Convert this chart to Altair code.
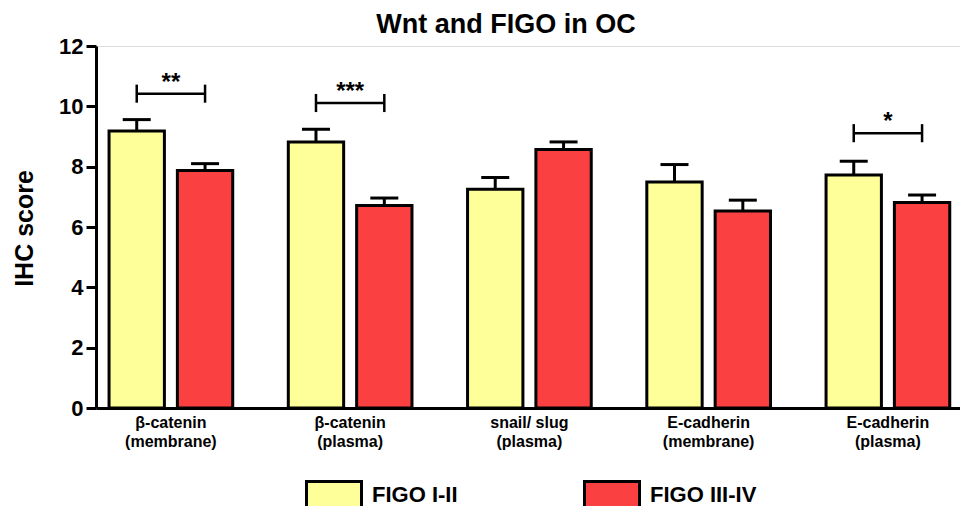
import altair as alt
import pandas as pd

categories = ["β-catenin\n(membrane)", "β-catenin\n(plasma)", "snail/ slug\n(plasma)",
              "E-cadherin\n(membrane)", "E-cadherin\n(plasma)"]
series = ["FIGO I-II", "FIGO III-IV"]
colors = ["#FFFF99", "#FA4040"]

figo12 = [9.18, 8.82, 7.25, 7.49, 7.72]
figo12_err = [0.38, 0.42, 0.39, 0.58, 0.46]
figo34 = [7.87, 6.71, 8.57, 6.53, 6.81]
figo34_err = [0.23, 0.25, 0.25, 0.36, 0.25]

sig_index = [0, 1, 4]
sig_text = ["**", "***", "*"]
sig_y = [10.42, 10.11, 9.11]
sig_half = 0.3

rows = []
for i, c in enumerate(categories):
    rows.append({"cat": c, "series": series[0], "value": figo12[i], "top": figo12[i] + figo12_err[i]})
    rows.append({"cat": c, "series": series[1], "value": figo34[i], "top": figo34[i] + figo34_err[i]})
df = pd.DataFrame(rows)

sig_rows = []
sig_end_rows = []
for k, i in enumerate(sig_index):
    sig_rows.append({"cat": categories[i], "y": sig_y[k], "label": sig_text[k]})
    for s in series:
        sig_end_rows.append({"cat": categories[i], "series": s,
                             "y1": sig_y[k] - sig_half, "y2": sig_y[k] + sig_half})
sig_df = pd.DataFrame(sig_rows)
sig_end_df = pd.DataFrame(sig_end_rows)

x_scale = alt.Scale(domain=categories, paddingInner=0.31, paddingOuter=0.065, align=0.56)
x_enc = alt.X("cat:N", sort=categories, title=None, scale=x_scale,
              axis=alt.Axis(labelExpr="split(datum.label, '\\n')", labelAngle=0, ticks=False,
                            labelFont="Liberation Sans", labelFontWeight="bold", labelFontSize=16,
                            labelLineHeight=19, labelPadding=6, labelColor="black",
                            domainColor="black", domainWidth=3, labelLimit=200))
xoff_enc = alt.XOffset("series:N", sort=series,
                       scale=alt.Scale(domain=series, paddingInner=0.19, paddingOuter=0))
y_scale = alt.Scale(domain=[0, 12], nice=False, zero=True)
y_enc = alt.Y("value:Q", scale=y_scale, title="IHC score",
              axis=alt.Axis(values=[0, 2, 4, 6, 8, 10, 12], tickSize=10, tickWidth=3, tickColor="black",
                            domainColor="black", domainWidth=3, grid=False,
                            labelFont="Liberation Sans", labelFontWeight="bold", labelFontSize=22,
                            labelColor="black", labelPadding=3,
                            titleFont="Liberation Sans", titleFontWeight="bold", titleFontSize=25,
                            titleColor="black", titleX=-72, titleY=182, titleAngle=-90,
                            titleBaseline="middle", titleAlign="center"))

x_plain = alt.X("cat:N", sort=categories, title=None, scale=x_scale)
xoff_plain = alt.XOffset("series:N", sort=series)

bars = alt.Chart(df).mark_bar(stroke="black", strokeWidth=3).encode(
    x=x_enc, xOffset=xoff_enc, y=y_enc,
    color=alt.Color("series:N", sort=series,
                    scale=alt.Scale(domain=series, range=colors),
                    legend=alt.Legend(title=None, orient="none", direction="horizontal", columns=2,
                                      legendX=209, legendY=420, padding=0,
                                      symbolType="M-1,-0.5H1V0.5H-1Z", symbolSize=3025,
                                      symbolStrokeColor="black", symbolStrokeWidth=3,
                                      symbolOpacity=1, labelOffset=9, columnPadding=120,
                                      labelFont="Liberation Sans", labelFontWeight="bold",
                                      labelFontSize=22, labelColor="black", labelLimit=300)),
)

err = alt.Chart(df).mark_rule(color="black", strokeWidth=3).encode(
    x=x_plain, xOffset=xoff_plain,
    y=alt.Y("value:Q", scale=y_scale, title="IHC score"), y2="top:Q")

caps = alt.Chart(df).mark_tick(color="black", size=28, thickness=3, opacity=1).encode(
    x=x_plain, xOffset=xoff_plain,
    y=alt.Y("top:Q", scale=y_scale, title="IHC score"))

sig_line = alt.Chart(sig_df).mark_tick(color="black", size=68.5, thickness=2.5, opacity=1).encode(
    x=x_plain, y=alt.Y("y:Q", scale=y_scale, title="IHC score"))

sig_ends = alt.Chart(sig_end_df).mark_rule(color="black", strokeWidth=2.5).encode(
    x=x_plain, xOffset=xoff_plain,
    y=alt.Y("y1:Q", scale=y_scale, title="IHC score"), y2="y2:Q")

sig_lab = alt.Chart(sig_df).mark_text(font="Liberation Sans", fontWeight="bold", fontSize=24,
                                      color="black", baseline="alphabetic", dy=-4).encode(
    x=x_plain, y=alt.Y("y:Q", scale=y_scale, title="IHC score"), text="label:N")

chart = alt.layer(bars, err, caps, sig_line, sig_ends, sig_lab).properties(
    width=864, height=362,
    autosize=alt.AutoSizeParams(type="none"),
    padding={"left": 88, "top": 38, "right": 0, "bottom": 98},
    title=alt.TitleParams("Wnt and FIGO in OC", font="Liberation Sans", fontWeight="bold",
                          fontSize=27, color="black", anchor="middle", frame="group",
                          baseline="alphabetic", offset=13, dx=-22, dy=38),
).configure_view(stroke=None).configure_axis(grid=False).configure(background="white")

chart.save("out.html", embed_options={"renderer": "svg", "actions": False})
